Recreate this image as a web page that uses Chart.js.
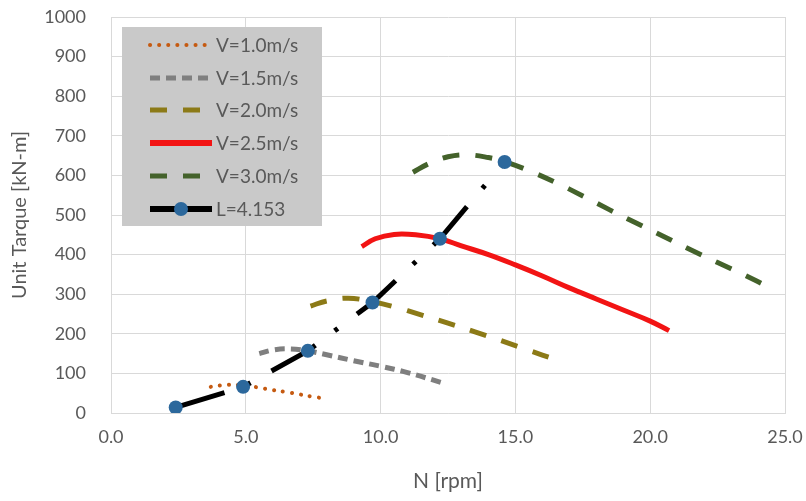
<!DOCTYPE html>
<html>
<head>
<meta charset="utf-8">
<script src="https://cdn.jsdelivr.net/npm/chart.js@4"></script>
<style>
  html, body { margin: 0; padding: 0; background: #fff; }
  #wrap { width: 806px; height: 501px; }
</style>
</head>
<body>
<div id="wrap"><canvas id="torqueChart"></canvas></div>
<script>
// curve data: N [rpm] and unit torque [kN-m]
const v10N = [3.7, 4.3, 4.9, 5.5, 6.0, 6.5, 7.0, 7.5, 8.0];
const v10T = [66, 71, 70, 64, 58, 53, 47, 41, 36];
const v15N = [5.5, 6.0, 6.6, 7.3, 8.0, 9.0, 10.0, 11.0, 12.3];
const v15T = [150, 159, 162, 157, 147, 132, 118, 102, 76];
const v20N = [7.4, 8.0, 8.8, 9.7, 10.5, 11.5, 12.5, 13.5, 14.5, 15.5, 16.5];
const v20T = [270, 283, 290, 281, 268, 248, 227, 205, 182, 158, 135];
const v25N = [9.3, 9.8, 10.5, 11.3, 12.2, 13.0, 14.0, 15.0, 16.0, 17.0, 18.0, 19.0, 20.0, 20.7];
const v25T = [420, 440, 451, 450, 440, 422, 400, 374, 346, 316, 288, 260, 232, 208];
const v30N = [11.2, 11.8, 12.5, 13.2, 14.0, 14.6, 15.5, 16.5, 17.5, 18.5, 19.5, 20.5, 21.5, 22.5, 23.5, 24.4];
const v30T = [608, 630, 647, 652, 645, 635, 612, 582, 548, 513, 479, 446, 412, 380, 348, 318];
const lineN = [2.4, 4.9, 7.3, 9.7, 12.2, 14.6];
const lineT = [14, 66, 157, 279, 440, 634];

const labels = ['V=1.0m/s', 'V=1.5m/s', 'V=2.0m/s', 'V=2.5m/s', 'V=3.0m/s', 'L=4.153'];
const xTicks = [0, 5, 10, 15, 20, 25];

const fontName = 'Lato, "Open Sans", sans-serif';
const textGray = '#595959';

// zip two arrays into {x, y} points
function toPoints(xs, ys) {
  return xs.map((x, i) => ({ x: x, y: ys[i] }));
}

function curve(label, xs, ys, color, dash, width, cap) {
  return {
    label: label,
    data: toPoints(xs, ys),
    borderColor: color,
    backgroundColor: color,
    borderWidth: width,
    borderDash: dash,
    borderCapStyle: cap || 'butt',
    pointRadius: 0,
    tension: 0.4,
    showLine: true,
    order: 1
  };
}

const datasets = [
  curve(labels[0], v10N, v10T, '#c55a11', [0.1, 9], 4, 'round'),
  curve(labels[1], v15N, v15T, '#7f7f7f', [10, 6], 5),
  curve(labels[2], v20N, v20T, '#8c7a17', [17, 16], 5),
  curve(labels[3], v25N, v25T, '#f21414', [], 5),
  curve(labels[4], v30N, v30T, '#44622b', [17, 16], 5),
  {
    label: labels[5],
    data: toPoints(lineN, lineT),
    borderColor: '#000',
    backgroundColor: '#2c689c',
    borderWidth: 5,
    borderDash: [51, 24, 4, 24],
    pointRadius: 7,
    pointBorderWidth: 0,
    pointBackgroundColor: '#2c689c',
    tension: 0,
    showLine: true,
    order: 0
  }
];

// legend drawn as a grey box inside the plot, like the original
const boxLegend = {
  id: 'boxLegend',
  afterDatasetsDraw(chart) {
    const ctx = chart.ctx;
    ctx.save();
    ctx.fillStyle = '#c9c9c9';
    ctx.fillRect(122, 27, 200, 199);
    ctx.font = '19px ' + fontName;
    ctx.textBaseline = 'middle';
    const rows = [45, 78, 110, 143, 176, 209];
    chart.data.datasets.forEach((ds, i) => {
      const y = rows[i];
      ctx.beginPath();
      ctx.strokeStyle = ds.borderColor;
      ctx.lineWidth = i === 5 ? 6 : (i === 3 ? 6 : ds.borderWidth);
      ctx.lineCap = ds.borderCapStyle || 'butt';
      ctx.setLineDash(i === 5 ? [] : ds.borderDash);
      ctx.moveTo(150, y);
      ctx.lineTo(212, y);
      ctx.stroke();
      if (i === 5) {
        ctx.beginPath();
        ctx.fillStyle = ds.pointBackgroundColor;
        ctx.arc(181, y, 7, 0, Math.PI * 2);
        ctx.fill();
      }
      ctx.fillStyle = textGray;
      ctx.fillText(ds.label, 216, y + 1);
    });
    ctx.restore();
  }
};

// drop the extra room chart.js keeps for tick labels so the plot area sits where the padding says
function noOverhang(scale) {
  scale.paddingTop = 0;
  scale.paddingBottom = 0;
  scale.paddingLeft = 0;
  scale.paddingRight = 0;
}

const ctx = document.getElementById('torqueChart').getContext('2d');

new Chart(ctx, {
  type: 'scatter',
  data: { datasets: datasets },
  options: {
    responsive: true,
    maintainAspectRatio: false,
    animation: false,
    layout: { padding: { top: 17, right: 21, left: 0, bottom: 0 } },
    plugins: {
      legend: { display: false },
      tooltip: { enabled: false }
    },
    scales: {
      x: {
        type: 'linear',
        min: 0,
        max: 25,
        afterBuildTicks: (scale) => { scale.ticks = xTicks.map(v => ({ value: v })); },
        afterFit: (scale) => { scale.height = 88; noOverhang(scale); },
        grid: { color: '#d9d9d9', drawTicks: false },
        border: { color: '#d9d9d9' },
        ticks: {
          padding: 13,
          color: textGray,
          font: { family: fontName, size: 18 },
          callback: (v) => Number(v).toFixed(1)
        },
        title: {
          display: true,
          text: 'N [rpm]',
          color: textGray,
          font: { family: fontName, size: 21 },
          padding: { top: 0, bottom: 7 }
        }
      },
      y: {
        min: 0,
        max: 1000,
        afterFit: (scale) => { scale.width = 111; noOverhang(scale); },
        grid: { color: '#d9d9d9', drawTicks: false },
        border: { color: '#d9d9d9' },
        ticks: {
          stepSize: 100,
          padding: 25,
          color: textGray,
          font: { family: fontName, size: 18 },
          callback: (v) => String(v)
        },
        title: {
          display: true,
          text: 'Unit Tarque [kN-m]',
          color: textGray,
          font: { family: fontName, size: 20 },
          padding: { top: 8, bottom: 0 }
        }
      }
    }
  },
  plugins: [boxLegend]
});
</script>
</body>
</html>
